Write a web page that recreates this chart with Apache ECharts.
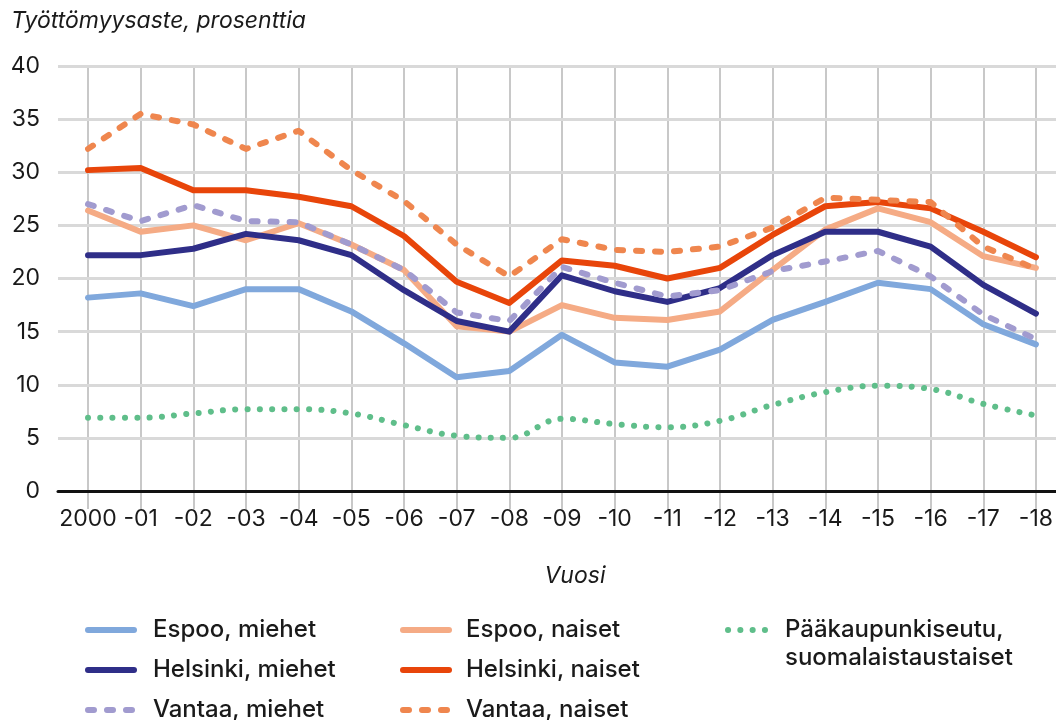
<!DOCTYPE html>
<html>
<head>
<meta charset="utf-8">
<script src="https://cdn.jsdelivr.net/npm/echarts@6/dist/echarts.min.js"></script>
<style>
  html, body { margin: 0; padding: 0; background: #fff; }
  #chart { width: 1056px; height: 720px; }
</style>
</head>
<body>
<div id="chart"></div>
<script>
  // vuodet
  const years = ['2000', '-01', '-02', '-03', '-04', '-05', '-06', '-07', '-08', '-09',
    '-10', '-11', '-12', '-13', '-14', '-15', '-16', '-17', '-18']

  const espooMiehet = [18.2, 18.6, 17.4, 19.0, 19.0, 16.9, 13.9, 10.7, 11.3, 14.7,
    12.1, 11.7, 13.3, 16.1, 17.8, 19.6, 19.0, 15.7, 13.8]
  const espooNaiset = [26.4, 24.4, 25.0, 23.6, 25.2, 23.2, 20.8, 15.5, 15.0, 17.5,
    16.3, 16.1, 16.9, 20.8, 24.6, 26.6, 25.3, 22.1, 21.0]
  const helsinkiMiehet = [22.2, 22.2, 22.8, 24.2, 23.6, 22.2, 18.9, 16.0, 15.0, 20.3,
    18.8, 17.8, 19.1, 22.2, 24.4, 24.4, 23.0, 19.4, 16.7]
  const helsinkiNaiset = [30.2, 30.4, 28.3, 28.3, 27.7, 26.8, 24.0, 19.7, 17.7, 21.7,
    21.2, 20.0, 21.0, 24.1, 26.8, 27.2, 26.6, 24.4, 22.0]
  const vantaaMiehet = [27.0, 25.4, 26.9, 25.4, 25.3, 23.2, 20.8, 16.8, 16.0, 21.1,
    19.6, 18.3, 18.9, 20.7, 21.6, 22.6, 20.2, 16.6, 14.3]
  const vantaaNaiset = [32.2, 35.5, 34.5, 32.2, 33.9, 30.2, 27.3, 23.2, 20.2, 23.7,
    22.7, 22.5, 23.0, 24.8, 27.6, 27.4, 27.2, 23.0, 20.9]
  const paakaupunkiseutu = [6.9, 6.9, 7.3, 7.7, 7.7, 7.3, 6.2, 5.2, 5.0, 6.8,
    6.3, 6.0, 6.6, 8.1, 9.3, 9.9, 9.6, 8.2, 7.1]

  const yTicks = [0, 5, 10, 15, 20, 25, 30, 35, 40]

  const font = 'Inter, Roboto, sans-serif'
  const dash = [6, 13]
  const dots = [0.1, 12.2]
  const greenName = 'Pääkaupunkiseutu,\nsuomalaistaustaiset'

  function lineSeries (name, data, color, type) {
    return {
      name,
      type: 'line',
      data,
      xAxisIndex: 0,
      yAxisIndex: 0,
      symbol: 'none',
      smooth: false,
      z: 5,
      lineStyle: {
        color,
        width: 6,
        type: type || 'solid',
        cap: 'round',
        join: 'round'
      },
      itemStyle: { color },
      emphasis: { disabled: true }
    }
  }

  const legendText = { fontFamily: font, fontSize: 24, fontWeight: 500, color: '#1a1a1a', lineHeight: 24 }

  const legendBase = {
    orient: 'vertical',
    top: 618,
    height: 130,
    padding: 0,
    itemWidth: 46,
    itemHeight: 14,
    itemGap: 16,
    selectedMode: false,
    itemStyle: { opacity: 0 },
    lineStyle: { width: 6, cap: 'round', inactiveWidth: 6 }
  }

  const green = lineSeries(greenName, paakaupunkiseutu, '#5fbe8a', dots)
  green.smooth = 0.4

  const option = {
    backgroundColor: '#fff',
    animation: false,
    title: [
      {
        text: 'Työttömyysaste, prosenttia',
        left: 11,
        top: 10,
        padding: 0,
        textStyle: { fontFamily: font, fontSize: 23, fontStyle: 'italic', fontWeight: 'normal', color: '#1a1a1a' }
      },
      {
        text: 'Vuosi',
        left: 575,
        top: 565,
        padding: 0,
        textAlign: 'center',
        textStyle: { fontFamily: font, fontSize: 23, fontStyle: 'italic', fontWeight: 'normal', color: '#1a1a1a' }
      }
    ],
    grid: [
      { left: 88, right: 15, top: 66, height: 425 },
      { left: 58, right: 0, top: 66, height: 425 }
    ],
    xAxis: [
      {
        type: 'category',
        gridIndex: 0,
        data: years,
        boundaryGap: false,
        axisLine: { show: false },
        axisTick: { show: true, interval: 0, length: 18, lineStyle: { color: '#c8c8c8', width: 2 } },
        splitLine: { show: true, interval: 0, lineStyle: { color: '#c8c8c8', width: 2 } },
        axisLabel: { interval: 0, fontFamily: font, fontSize: 23, color: '#1a1a1a', margin: 17 }
      },
      {
        type: 'value',
        gridIndex: 1,
        min: 0,
        max: 1,
        z: 4,
        axisLine: { show: true, lineStyle: { color: '#111', width: 3 } },
        axisTick: { show: false },
        axisLabel: { show: false },
        splitLine: { show: false }
      }
    ],
    yAxis: [
      {
        type: 'value',
        gridIndex: 0,
        min: yTicks[0],
        max: yTicks[yTicks.length - 1],
        interval: 5,
        axisLine: { show: false },
        axisTick: { show: false },
        axisLabel: { show: false },
        splitLine: { show: false }
      },
      {
        type: 'value',
        gridIndex: 1,
        min: yTicks[0],
        max: yTicks[yTicks.length - 1],
        interval: 5,
        z: 1,
        axisLine: { show: false },
        axisTick: { show: false },
        axisLabel: { fontFamily: font, fontSize: 23, color: '#1a1a1a', margin: 18 },
        splitLine: { lineStyle: { color: '#d9d9d9', width: 3 } }
      }
    ],
    legend: [
      Object.assign({}, legendBase, {
        left: 85,
        data: ['Espoo, miehet', 'Helsinki, miehet', 'Vantaa, miehet'],
        textStyle: Object.assign({}, legendText, { padding: [0, 0, 0, 14] })
      }),
      Object.assign({}, legendBase, {
        left: 400,
        data: ['Espoo, naiset', 'Helsinki, naiset', 'Vantaa, naiset'],
        textStyle: Object.assign({}, legendText, { padding: [0, 0, 0, 12] })
      }),
      Object.assign({}, legendBase, {
        left: 725,
        top: 588,
        itemWidth: 37,
        data: [greenName],
        // tyhjä ensimmäinen rivi nostaa tekstin niin, että merkki osuu ensimmäiselle riville
        formatter: name => '\n' + name,
        textStyle: Object.assign({}, legendText, { lineHeight: 28, padding: [0, 0, 0, 15] })
      })
    ],
    series: [
      lineSeries('Espoo, naiset', espooNaiset, '#f5ab85'),
      lineSeries('Espoo, miehet', espooMiehet, '#80a8dc'),
      lineSeries('Helsinki, naiset', helsinkiNaiset, '#e8450a'),
      lineSeries('Helsinki, miehet', helsinkiMiehet, '#2f2e88'),
      lineSeries('Vantaa, miehet', vantaaMiehet, '#a19bcf', dash),
      lineSeries('Vantaa, naiset', vantaaNaiset, '#ef864e', dash),
      green
    ]
  }

  const chart = echarts.init(document.getElementById('chart'), null, { renderer: 'canvas' })
  chart.setOption(option)
</script>
</body>
</html>
